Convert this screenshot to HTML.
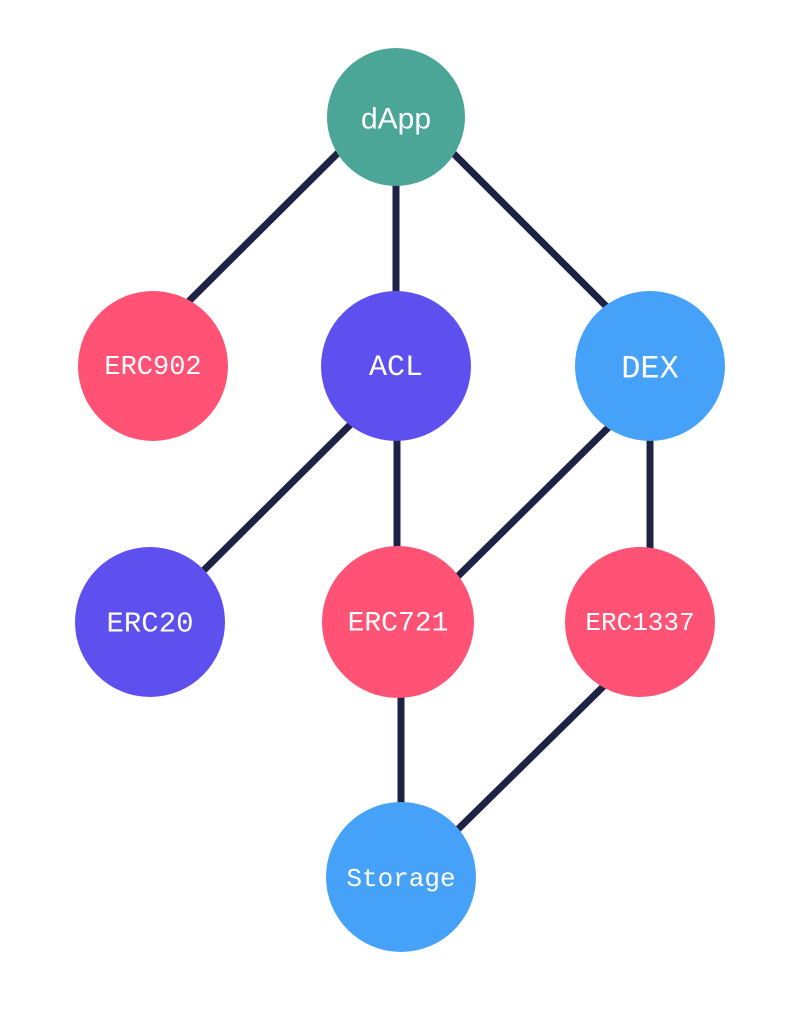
<!DOCTYPE html>
<html><head><meta charset="utf-8"><style>html,body{margin:0;padding:0;background:#fff}</style></head>
<body>
<svg width="800" height="1010" xmlns="http://www.w3.org/2000/svg">
<g stroke="#1e2245" stroke-width="7" stroke-linecap="butt">
<line x1="348" y1="143" x2="180" y2="310"/>
<line x1="396" y1="117" x2="396" y2="366"/>
<line x1="445" y1="145" x2="616" y2="316"/>
<line x1="360" y1="415" x2="193" y2="581"/>
<line x1="397" y1="366" x2="397" y2="622"/>
<line x1="618" y1="418" x2="446" y2="588"/>
<line x1="650" y1="366" x2="650" y2="622"/>
<line x1="401" y1="622" x2="401" y2="877"/>
<line x1="613" y1="677" x2="447" y2="840"/>
</g>
<circle cx="396" cy="117" r="69" fill="#4ba698"/>
<circle cx="153" cy="366" r="75" fill="#ff5274"/>
<circle cx="396" cy="366" r="75" fill="#5e50ef"/>
<circle cx="650" cy="366" r="75" fill="#45a2f8"/>
<circle cx="150" cy="622" r="75" fill="#5e50ef"/>
<circle cx="398" cy="622" r="76" fill="#ff5274"/>
<circle cx="640" cy="622" r="75" fill="#ff5274"/>
<circle cx="401" cy="877" r="75" fill="#45a2f8"/>
<g fill="#fff" text-anchor="middle" dominant-baseline="central" font-family="'Liberation Mono', monospace">
<text x="396" y="119" font-family="'Liberation Sans', sans-serif" font-size="30">dApp</text>
<text x="153" y="368" font-size="27">ERC902</text>
<text x="396" y="368" font-size="30">ACL</text>
<text x="650" y="369" font-size="32">DEX</text>
<text x="150" y="624" font-size="29">ERC20</text>
<text x="398" y="624" font-size="28">ERC721</text>
<text x="640" y="623" font-size="26">ERC1337</text>
<text x="401" y="879" font-size="26">Storage</text>
</g>
</svg>
</body></html>
